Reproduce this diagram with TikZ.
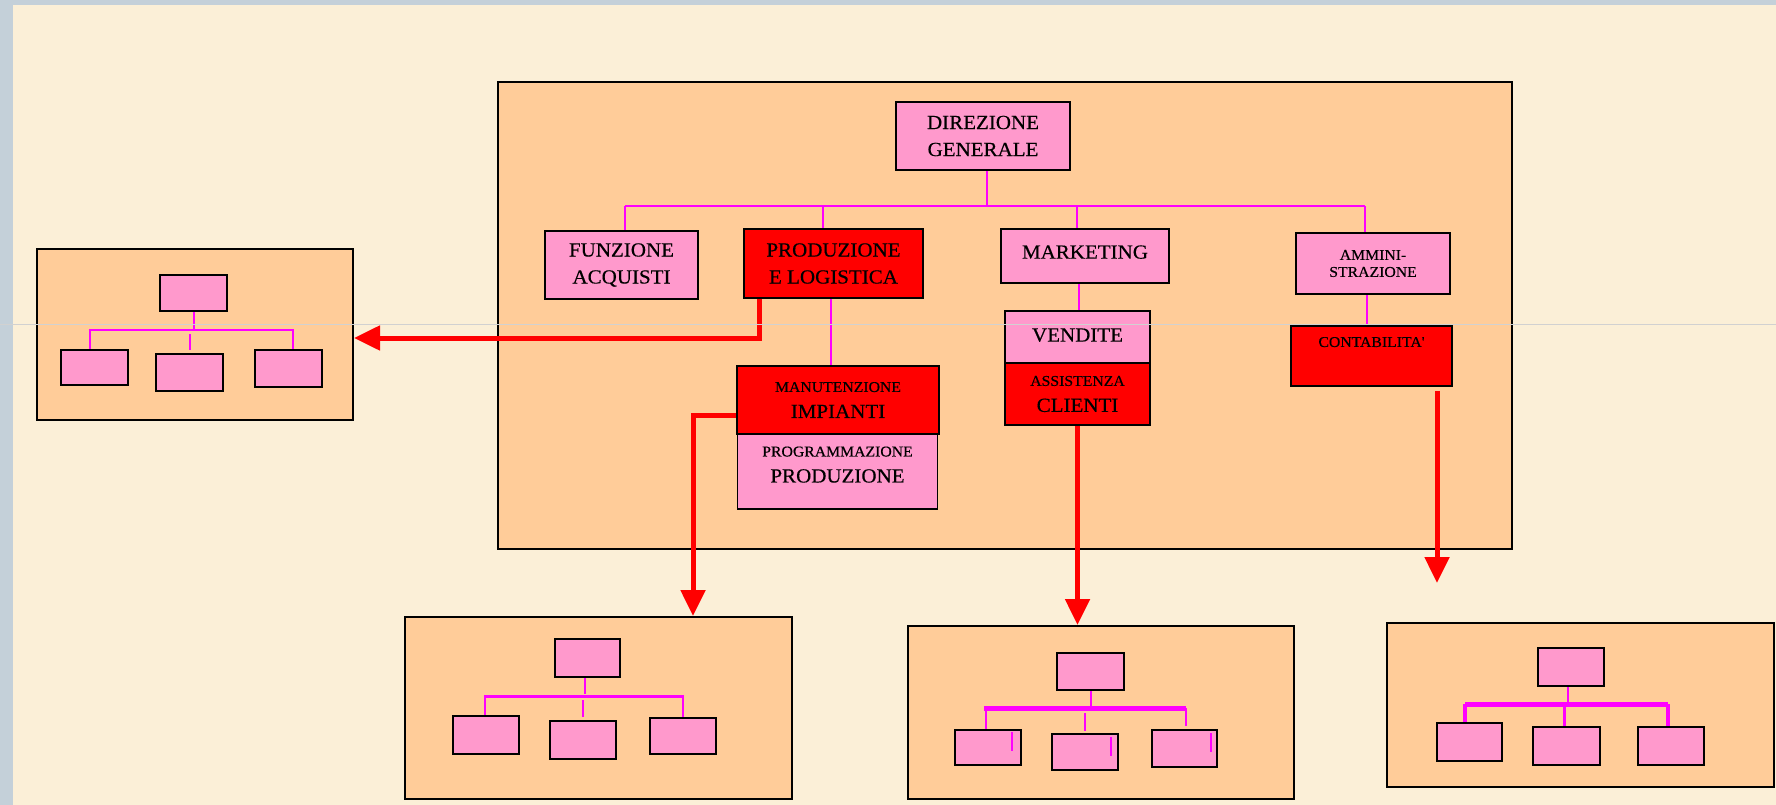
\documentclass[tikz,border=0pt]{standalone}
\usepackage{fontspec}
\setmainfont{Liberation Serif}
\newfontfamily\orgf[FakeStretch=1.05, FakeBold=0.4]{Liberation Serif}
\newcommand{\orgsmall}{\fontsize{15}{17}\selectfont}
\usetikzlibrary{arrows.meta}
\definecolor{bgbeige}{HTML}{FBEFD7}
\definecolor{stripgray}{HTML}{C4D0D9}
\definecolor{orgorange}{HTML}{FFCC99}
\definecolor{orgpink}{HTML}{FF99CC}
\definecolor{orgred}{HTML}{FF0000}
\definecolor{orgmag}{HTML}{FF00FF}
\tikzset{
  orgbox/.style={draw=black, line width=1.8pt, inner sep=0pt, align=center,
    font=\orgf\fontsize{20}{27}\selectfont},
  pinkbox/.style={orgbox, fill=orgpink},
  redbox/.style={orgbox, fill=orgred},
  panelbox/.style={draw=black, line width=2pt, fill=orgorange, inner sep=0pt},
  minibox/.style={draw=black, line width=2pt, fill=orgpink, inner sep=0pt},
  magline/.style={draw=orgmag, line width=2pt},
  redarr/.style={draw=orgred, line width=5pt, -{Triangle[width=24pt,length=26pt]}},
}
\begin{document}
\begin{tikzpicture}[x=1pt,y=-1pt]
\useasboundingbox (0,0) rectangle (1776,805);
\fill[bgbeige] (0,0) rectangle (1776,805);
\fill[stripgray] (0,0) rectangle (13,805);
\fill[stripgray] (0,0) rectangle (1776,5);

% panels
\node[panelbox, minimum width=1014pt, minimum height=467pt] (mainp) at (1005,315.5) {};
\node[panelbox, minimum width=316pt, minimum height=171pt] (lbox) at (195,334.5) {};
\node[panelbox, minimum width=387pt, minimum height=182pt] (bA) at (598.5,708) {};
\node[panelbox, minimum width=386pt, minimum height=173pt] (bB) at (1101,712.5) {};
\node[panelbox, minimum width=387pt, minimum height=164pt] (bC) at (1580.5,705) {};

% main chart
\node[pinkbox, minimum width=174pt, minimum height=68pt] (dg) at (983,136) {DIREZIONE\\GENERALE};
\node[pinkbox, minimum width=153pt, minimum height=68pt] (fa) at (621.5,265) {FUNZIONE\\ACQUISTI};
\node[redbox, minimum width=179pt, minimum height=69pt] (pl) at (833.5,263.5) {PRODUZIONE\\E LOGISTICA};
\node[pinkbox, minimum width=168pt, minimum height=54pt, text depth=8pt] (mk) at (1085,256) {MARKETING};
\node[pinkbox, minimum width=154pt, minimum height=61pt, font=\orgf\orgsmall] (am) at (1373,263.5) {AMMINI-\\STRAZIONE};
\node[redbox, minimum width=202pt, minimum height=68pt] (mi) at (838,400) {{\orgsmall MANUTENZIONE}\\[-1pt]IMPIANTI};
\node[pinkbox, minimum width=200pt, minimum height=75pt, text depth=14pt] (pp) at (837.5,471.5) {{\orgsmall PROGRAMMAZIONE}\\[-1pt]PRODUZIONE};
\node[pinkbox, minimum width=145pt, minimum height=52pt, text depth=4pt] (ve) at (1077.5,337) {VENDITE};
\node[redbox, minimum width=145pt, minimum height=62pt] (ac) at (1077.5,394) {{\orgsmall ASSISTENZA}\\[-1pt]CLIENTI};
\node[redbox, minimum width=161pt, minimum height=60pt, font=\orgf\orgsmall, text depth=28pt] (co) at (1371.5,356) {CONTABILITA'};

\coordinate (busL) at (625,206);
\coordinate (busR) at (1365,206);
\draw[magline] ([xshift=4pt]dg.south) -- ([xshift=4pt]dg.south |- busL);
\draw[magline] (busL) -- (busR);
\draw[magline] (busL) -- (busL |- fa.north);
\draw[magline] ([xshift=-11pt]pl.north) -- ([xshift=-11pt]pl.north |- busL);
\draw[magline] ([xshift=-8pt]mk.north) -- ([xshift=-8pt]mk.north |- busL);
\draw[magline] ([xshift=-8pt]am.north) -- ([xshift=-8pt]am.north |- busL);
\draw[magline] ([xshift=-2.5pt]pl.south) -- ([xshift=-2.5pt]pl.south |- mi.north);
\draw[magline] ([xshift=1.5pt]ve.north) -- ([xshift=1.5pt]ve.north |- mk.south);
\draw[magline] ([xshift=-4.5pt]co.north) -- ([xshift=-4.5pt]co.north |- am.south);

% red arrows
\draw[redarr] ([xshift=-74.5pt]pl.south) |- ([yshift=-3.5pt]lbox.east);
\draw[redarr] ([yshift=-15pt]mi.west) -| ([xshift=94.5pt]bA.north);
\draw[redarr] (ac.south) -- (ac.south |- bB.north);
\coordinate (c4) at (1437,583);
\draw[redarr] ([xshift=65.5pt,yshift=-4pt]co.south) -- (c4);

% left mini chart
\node[minibox, minimum width=67pt, minimum height=36pt] (lt) at (193.5,293) {};
\node[minibox, minimum width=67pt, minimum height=35pt] (l1) at (94.5,367.5) {};
\node[minibox, minimum width=67pt, minimum height=37pt] (l2) at (189.5,372.5) {};
\node[minibox, minimum width=67pt, minimum height=37pt] (l3) at (288.5,368.5) {};
\coordinate (lbL) at (90,330);
\coordinate (lbR) at (293,330);
\draw[magline] (lt.south) -- (lt.south |- lbL);
\draw[magline] (lbL |- l1.north) -- (lbL) -- (lbR) -- (lbR |- l3.north);
\draw[magline] ([yshift=-4pt]lbL -| l2.north) -- ([yshift=3pt]l2.north);

% bottom A
\node[minibox, minimum width=65pt, minimum height=38pt] (at) at (587.5,658) {};
\node[minibox, minimum width=66pt, minimum height=38pt] (a1) at (486,735) {};
\node[minibox, minimum width=66pt, minimum height=38pt] (a2) at (583,740) {};
\node[minibox, minimum width=66pt, minimum height=36pt] (a3) at (683,736) {};
\coordinate (abL) at (485,696);
\coordinate (abR) at (683,696);
\draw[magline] ([xshift=-2.5pt]at.south) -- ([xshift=-2.5pt,yshift=2pt]at.south |- abL);
\draw[magline] (abL |- a1.north) -- (abL) -- (abR) -- (abR |- a3.north);
\draw[orgmag, line width=3pt] (abL) -- (abR);
\draw[magline] ([yshift=-4pt]abL -| a2.north) -- ([yshift=3pt]a2.north);

% bottom B
\node[minibox, minimum width=67pt, minimum height=37pt] (bt) at (1090.5,671.5) {};
\node[minibox, minimum width=66pt, minimum height=35pt] (b1) at (988,747.5) {};
\node[minibox, minimum width=66pt, minimum height=36pt] (b2) at (1085,752) {};
\node[minibox, minimum width=65pt, minimum height=37pt] (b3) at (1184.5,748.5) {};
\coordinate (bbL) at (984,708);
\coordinate (bbR) at (1186,708);
\draw[magline] (bt.south) -- (bt.south |- bbL);
\draw[orgmag, line width=5pt] (bbL) -- (bbR);
\draw[magline] ([xshift=2pt]bbL) -- ([xshift=2pt]bbL |- b1.north);
\draw[magline] (bbR) -- ([yshift=3pt]bbR |- b3.north);
\draw[magline] ([yshift=-5pt]bbL -| b2.north) -- ([yshift=2pt]b2.north);
\draw[magline] ([xshift=24pt,yshift=-3pt]b1.north) -- ++(0,19);
\draw[magline] ([xshift=26pt,yshift=-4pt]b2.north) -- ++(0,19);
\draw[magline] ([xshift=26.5pt,yshift=-4pt]b3.north) -- ++(0,19);

% bottom C
\node[minibox, minimum width=66pt, minimum height=38pt] (ct) at (1571,667) {};
\node[minibox, minimum width=65pt, minimum height=38pt] (c1) at (1469.5,742) {};
\node[minibox, minimum width=67pt, minimum height=38pt] (c2) at (1566.5,746) {};
\node[minibox, minimum width=66pt, minimum height=38pt] (c3) at (1671,746) {};
\coordinate (cbL) at (1465,704);
\coordinate (cbR) at (1668,704);
\draw[magline] ([xshift=-3pt]ct.south) -- ([xshift=-3pt]ct.south |- cbL);
\draw[orgmag, line width=5pt] (cbL) -- (cbR);
\draw[orgmag, line width=4pt] (cbL) -- (cbL |- c1.north);
\draw[orgmag, line width=3pt] ([xshift=-2.5pt]cbL -| c2.north) -- ([xshift=-2.5pt]c2.north);
\draw[orgmag, line width=4pt] (cbR) -- (cbR |- c3.north);

% faint scan line
\draw[black!18, line width=0.8pt] (0,324.5) -- (1776,324.5);
\end{tikzpicture}
\end{document}
